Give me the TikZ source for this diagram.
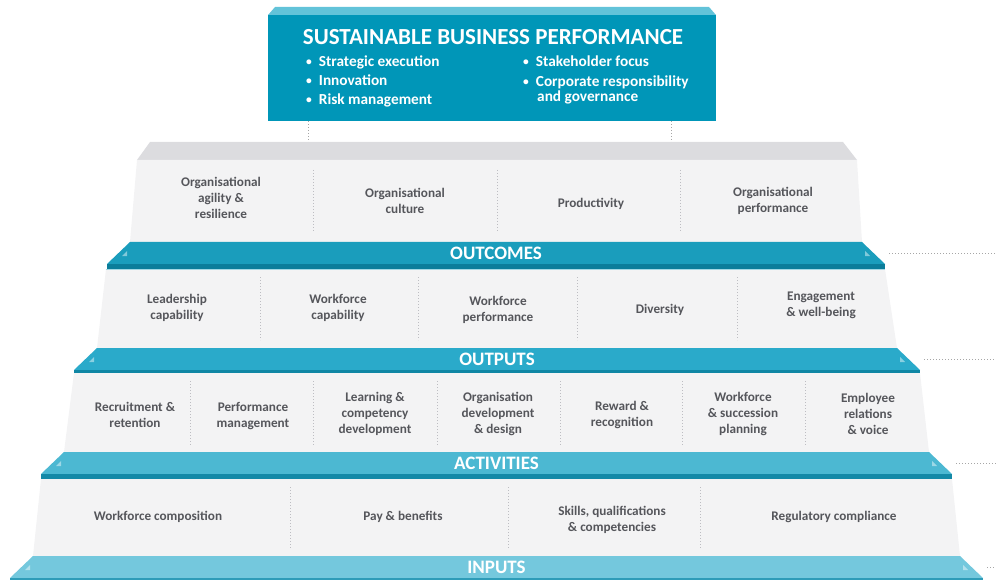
\documentclass[tikz,border=0pt]{standalone}
\usepackage{fontspec}
\setmainfont{Carlito}
\definecolor{boxfront}{HTML}{0096B8}
\definecolor{boxtop}{HTML}{62C3D9}
\definecolor{facefill}{HTML}{F3F3F4}
\definecolor{facetop}{HTML}{DCDCDF}
\definecolor{txt}{HTML}{55565B}
\definecolor{divc}{HTML}{BDBDC2}
\definecolor{barA}{HTML}{1A9DBC}
\definecolor{barB}{HTML}{2AAACA}
\definecolor{barC}{HTML}{4CB8D2}
\definecolor{barD}{HTML}{74C8DD}
\definecolor{bandA}{HTML}{0B7D9A}
\definecolor{bandB}{HTML}{0F86A4}
\definecolor{bandC}{HTML}{1489A7}
\definecolor{bandD}{HTML}{2E9CB8}
\tikzset{
  item/.style={text=txt, align=center, font=\bfseries\fontsize{13.2}{16}\selectfont, inner sep=0pt},
  barlabel/.style={text=white, font=\bfseries\fontsize{19}{22}\selectfont, inner sep=0pt},
  bullet/.style={text=white, anchor=base west, align=left, font=\bfseries\fontsize{15.3}{17}\selectfont, inner sep=0pt},
  divider/.style={draw=divc, line width=0.8pt, dash pattern=on 1.2pt off 1.8pt},
  guide/.style={draw=gray!70, line width=0.8pt, dash pattern=on 1.2pt off 1.8pt},
}
\newcommand\dotmark{\raisebox{1.5pt}{\scalebox{0.75}{•}}\hspace{7pt}}
% one coloured band of the pyramid: #1 top y, #2 left x, #3 right x,
% #4 fill, #5 shadow fill, #6 label, #7 name
\newcommand\pyrbar[7]{%
  \fill[#4] (#2,#1) -- (#3,#1) -- ({#3+23},{#1+22}) -- ({#2-23},{#1+22}) -- cycle;
  \fill[#5] ({#2-23},{#1+22}) rectangle ({#3+23},{#1+27});
  \fill[white,opacity=.45] ({#2-8},{#1+14}) -- ({#2-3},{#1+14}) -- ({#2-3},{#1+9}) -- cycle;
  \fill[white,opacity=.45] ({#3+3},{#1+9}) -- ({#3+3},{#1+14}) -- ({#3+8},{#1+14}) -- cycle;
  \node[barlabel] (#7) at ({(#2+#3)/2},{#1+11.5}) {#6};
  \coordinate (#7-tip) at ({#3+27},{#1+11});
  \coordinate (#7-edge) at (996,{#1+11});
  \draw[guide] (#7-tip) -- (#7-edge);
}
\begin{document}
\begin{tikzpicture}[x=1pt,y=-1pt]
\useasboundingbox (0,0) rectangle (996,580);

% summit box
\fill[boxtop] (275,7) -- (709,7) -- (716,15) -- (268,15) -- cycle;
\fill[boxfront] (268,15) rectangle (716,121);
\node[text=white, font=\bfseries\fontsize{23}{26}\selectfont, inner sep=0pt] (title) at (493,37) {SUSTAINABLE BUSINESS PERFORMANCE};
\node[bullet] (b1) at (306,67) {\dotmark Strategic execution};
\node[bullet] (b2) at (306,86) {\dotmark Innovation};
\node[bullet] (b3) at (306,105) {\dotmark Risk management};
\node[bullet] (b4) at (523,67) {\dotmark Stakeholder focus};
\node[bullet] (b5) at (523,87) {\dotmark Corporate responsibility};
\node[bullet] (b6) at (537,102) {and governance};
\coordinate (s1) at (308,121);
\coordinate (s2) at (671,121);
\coordinate (t1) at (308,152);
\coordinate (t2) at (671,152);
\draw[guide] (s1) -- (t1);
\draw[guide] (s2) -- (t2);

% tier 1: outcomes
\fill[facetop] (150,142) -- (843,142) -- (857,160) -- (137,160) -- cycle;
\fill[facefill] (137,160) -- (857,160) -- (862,242) -- (130,242) -- cycle;
\foreach \x in {313,497,680} \draw[divider] (\x,170) -- (\x,232);
\node[item] (o1) at (221,198) {Organisational\\agility \&\\resilience};
\node[item] (o2) at (405,201) {Organisational\\culture};
\node[item] (o3) at (591,204) {Productivity};
\node[item] (o4) at (773,201) {Organisational\\performance};
\pyrbar{242}{130}{862}{barA}{bandA}{OUTCOMES}{outcomes}

% tier 2: outputs
\fill[facefill] (106,269) -- (885,269) -- (897,348) -- (97,348) -- cycle;
\draw[barA!40, line width=0.8pt] (106,269.5) -- (885,269.5);
\foreach \x in {260,418,577,737} \draw[divider] (\x,277) -- (\x,340);
\node[item] (p1) at (177,308) {Leadership\\capability};
\node[item] (p2) at (338,308) {Workforce\\capability};
\node[item] (p3) at (498,310) {Workforce\\performance};
\node[item] (p4) at (660,310) {Diversity};
\node[item] (p5) at (821,305) {Engagement\\\& well-being};
\pyrbar{348}{97}{897}{barB}{bandB}{OUTPUTS}{outputs}

% tier 3: activities
\fill[facefill] (74,373) -- (920,373) -- (929,452) -- (64,452) -- cycle;
\foreach \x in {190,313,437,560,682,805} \draw[divider] (\x,381) -- (\x,445);
\node[item] (a1) at (135,415) {Recruitment \&\\retention};
\node[item] (a2) at (253,416) {Performance\\management};
\node[item] (a3) at (375,414) {Learning \&\\competency\\development};
\node[item] (a4) at (498,414) {Organisation\\development\\\& design};
\node[item] (a5) at (622,415) {Reward \&\\recognition};
\node[item] (a6) at (743,414) {Workforce\\\& succession\\planning};
\node[item] (a7) at (868,414) {Employee\\relations\\\& voice};
\pyrbar{452}{64}{929}{barC}{bandC}{ACTIVITIES}{activities}

% tier 4: inputs
\fill[facefill] (41,479) -- (952,479) -- (960,556) -- (33,556) -- cycle;
\foreach \x in {290,508,700} \draw[divider] (\x,487) -- (\x,548);
\node[item] (i1) at (158,517) {Workforce composition};
\node[item] (i2) at (403,517) {Pay \& benefits};
\node[item] (i3) at (612,520) {Skills, qualifications\\\& competencies};
\node[item] (i4) at (834,517) {Regulatory compliance};
\pyrbar{556}{33}{960}{barD}{bandD}{INPUTS}{inputs}
\end{tikzpicture}
\end{document}
